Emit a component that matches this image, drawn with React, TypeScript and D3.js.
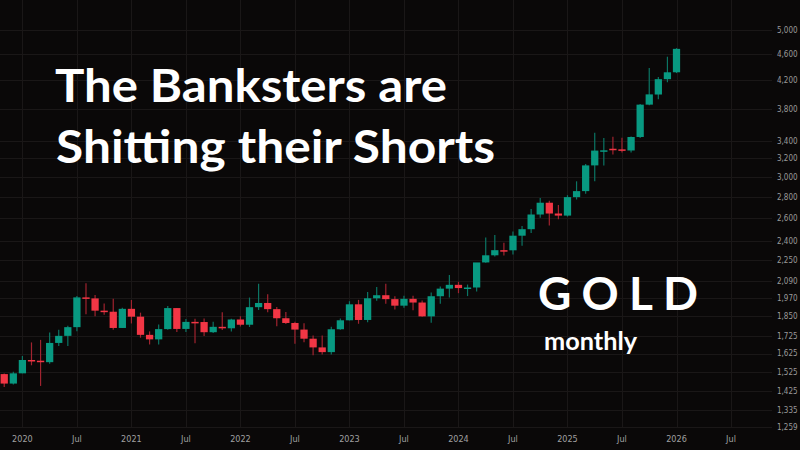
import * as d3 from 'd3';
import React, { useRef, useEffect } from 'react';

// monthly candles, Nov 2019 .. Jan 2026
const months = [
  '2019-11', '2019-12',
  '2020-01', '2020-02', '2020-03', '2020-04', '2020-05', '2020-06', '2020-07', '2020-08', '2020-09', '2020-10', '2020-11', '2020-12',
  '2021-01', '2021-02', '2021-03', '2021-04', '2021-05', '2021-06', '2021-07', '2021-08', '2021-09', '2021-10', '2021-11', '2021-12',
  '2022-01', '2022-02', '2022-03', '2022-04', '2022-05', '2022-06', '2022-07', '2022-08', '2022-09', '2022-10', '2022-11', '2022-12',
  '2023-01', '2023-02', '2023-03', '2023-04', '2023-05', '2023-06', '2023-07', '2023-08', '2023-09', '2023-10', '2023-11', '2023-12',
  '2024-01', '2024-02', '2024-03', '2024-04', '2024-05', '2024-06', '2024-07', '2024-08', '2024-09', '2024-10', '2024-11', '2024-12',
  '2025-01', '2025-02', '2025-03', '2025-04', '2025-05', '2025-06', '2025-07', '2025-08', '2025-09', '2025-10', '2025-11', '2025-12',
  '2026-01',
];

const opens = [
  1513, 1464,
  1517, 1589, 1585, 1577, 1686, 1728, 1781, 1975, 1968, 1886, 1879, 1776,
  1898, 1847, 1734, 1707, 1769, 1903, 1770, 1814, 1813, 1750, 1783, 1774,
  1829, 1796, 1909, 1937, 1896, 1837, 1807, 1766, 1711, 1660, 1633, 1768,
  1824, 1928, 1826, 1969, 1990, 1963, 1919, 1965, 1940, 1849, 1983, 2036,
  2063, 2040, 2044, 2230, 2286, 2327, 2326, 2447, 2503, 2634, 2744, 2643,
  2624, 2798, 2857, 3124, 3289, 3310, 3303, 3290, 3448, 3858, 3996, 4215,
  4317,
];
const highs = [
  1516, 1525,
  1611, 1689, 1704, 1748, 1765, 1789, 1984, 2075, 1992, 1933, 1966, 1906,
  1957, 1873, 1755, 1798, 1916, 1903, 1832, 1834, 1836, 1814, 1875, 1834,
  1850, 1974, 2070, 1996, 1910, 1877, 1814, 1806, 1730, 1730, 1784, 1836,
  1949, 1958, 2012, 2047, 2070, 1982, 1986, 1986, 1953, 2009, 2052, 2135,
  2085, 2065, 2223, 2431, 2452, 2387, 2483, 2531, 2685, 2790, 2762, 2722,
  2817, 2956, 3140, 3500, 3435, 3452, 3440, 3453, 3866, 4381, 4245, 4557,
  4695,
];
const lows = [
  1447, 1459,
  1517, 1560, 1452, 1568, 1668, 1668, 1756, 1863, 1849, 1860, 1765, 1775,
  1804, 1717, 1677, 1677, 1765, 1752, 1751, 1684, 1727, 1745, 1764, 1754,
  1785, 1782, 1890, 1875, 1787, 1800, 1681, 1690, 1616, 1620, 1620, 1765,
  1823, 1802, 1812, 1952, 1932, 1893, 1905, 1888, 1846, 1808, 1932, 1975,
  2004, 1984, 2016, 2228, 2277, 2285, 2293, 2364, 2471, 2604, 2536, 2592,
  2615, 2775, 2832, 2957, 3122, 3245, 3268, 3268, 3436, 3850, 3930, 4170,
  4305,
];
const closes = [
  1464, 1517,
  1589, 1585, 1577, 1686, 1728, 1781, 1975, 1967, 1886, 1879, 1776, 1898,
  1847, 1734, 1707, 1769, 1903, 1770, 1814, 1813, 1750, 1783, 1774, 1829,
  1796, 1909, 1937, 1896, 1837, 1807, 1766, 1711, 1660, 1633, 1768, 1824,
  1928, 1826, 1969, 1990, 1963, 1919, 1965, 1940, 1849, 1983, 2036, 2063,
  2040, 2044, 2230, 2286, 2327, 2326, 2447, 2503, 2634, 2744, 2643, 2624,
  2798, 2857, 3124, 3289, 3292, 3303, 3290, 3448, 3858, 3998, 4215, 4317,
  4683,
];

const priceTicks = [5000, 4600, 4200, 3800, 3400, 3200, 3000, 2800, 2600, 2400, 2250, 2090, 1970, 1850, 1725, 1625, 1525, 1425, 1335, 1259];
const timeLabels = ['2020', 'Jul', '2021', 'Jul', '2022', 'Jul', '2023', 'Jul', '2024', 'Jul', '2025', 'Jul', '2026', 'Jul'];

const UP = '#089981';
const DOWN = '#f23645';

function GoldChart({ width, height }) {
  const ref = useRef();

  useEffect(() => {
    const svg = d3.select(ref.current);
    svg.selectAll('*').remove();

    // month 0 = Jan 2020, first candle is Nov 2019
    const x = d3.scaleLinear().domain([0, 72]).range([22.4, 676.5]);
    const y = d3.scaleLog().domain([1259, 5000]).range([427, 30]);
    const step = x(1) - x(0);
    const bodyW = step * 0.8;

    const data = months.map((m, i) => ({
      m, idx: i - 2, o: opens[i], h: highs[i], l: lows[i], c: closes[i],
    }));

    svg.append('rect').attr('width', width).attr('height', height).attr('fill', '#0a0808');

    // grid
    svg.append('g').selectAll('line')
      .data(priceTicks)
      .enter().append('line')
      .attr('x1', 0).attr('x2', 772)
      .attr('y1', d => Math.round(y(d)) + 0.5).attr('y2', d => Math.round(y(d)) + 0.5)
      .attr('stroke', '#1a1717').attr('stroke-width', 1);

    svg.append('g').selectAll('line')
      .data(timeLabels)
      .enter().append('line')
      .attr('x1', (d, i) => Math.round(x(i * 6)) + 0.5).attr('x2', (d, i) => Math.round(x(i * 6)) + 0.5)
      .attr('y1', 0).attr('y2', 428)
      .attr('stroke', '#1a1717').attr('stroke-width', 1);

    // candles
    const candle = svg.append('g').selectAll('g')
      .data(data)
      .enter().append('g');

    candle.append('line')
      .attr('x1', d => x(d.idx)).attr('x2', d => x(d.idx))
      .attr('y1', d => y(d.h)).attr('y2', d => y(d.l))
      .attr('stroke', d => d.c >= d.o ? '#0b7564' : '#a1232f')
      .attr('stroke-width', 1.2);

    candle.append('rect')
      .attr('x', d => x(d.idx) - bodyW / 2)
      .attr('width', bodyW)
      .attr('y', d => y(Math.max(d.o, d.c)))
      .attr('height', d => Math.max(1.5, Math.abs(y(d.o) - y(d.c))))
      .attr('fill', d => d.c >= d.o ? UP : DOWN);

    // price scale
    svg.append('g').selectAll('text')
      .data(priceTicks)
      .enter().append('text')
      .attr('x', 777)
      .attr('y', d => y(d))
      .attr('dy', '0.35em')
      .attr('fill', '#9a9a9a')
      .style('font-family', '"Liberation Sans Narrow", "DejaVu Sans Condensed", sans-serif')
      .style('font-size', '8px')
      .text(d => d3.format(',')(d));

    // time scale
    svg.append('g').selectAll('text')
      .data(timeLabels)
      .enter().append('text')
      .attr('x', (d, i) => x(i * 6))
      .attr('y', 442)
      .attr('text-anchor', 'middle')
      .attr('fill', '#a0a0a0')
      .style('font-family', '"Liberation Sans Narrow", "DejaVu Sans Condensed", sans-serif')
      .style('font-size', '9px')
      .text(d => d);

    // headline
    const big = svg.append('g')
      .attr('fill', '#ffffff')
      .style('font-family', 'Lato, "Open Sans", sans-serif')
      .style('font-weight', 700);

    big.append('text').attr('x', 55).attr('y', 101.7)
      .attr('textLength', 392).attr('lengthAdjust', 'spacingAndGlyphs')
      .style('font-size', '46px').text('The Banksters are');
    big.append('text').attr('x', 56).attr('y', 163.3)
      .attr('textLength', 439).attr('lengthAdjust', 'spacingAndGlyphs')
      .style('font-size', '46px').text('Shitting their Shorts');
    big.append('text').attr('x', 538).attr('y', 310)
      .attr('textLength', 160).attr('lengthAdjust', 'spacing')
      .style('font-size', '46px').text('GOLD');
    big.append('text').attr('x', 544).attr('y', 350)
      .attr('textLength', 93).attr('lengthAdjust', 'spacingAndGlyphs')
      .style('font-size', '24px').text('monthly');
  }, [width, height]);

  return <svg ref={ref} width={width} height={height} style={{ display: 'block' }}></svg>;
}

export default function App() {
  return (
    <div style={{ position: 'absolute', left: 0, top: 0 }}>
      <GoldChart width={800} height={450} />
    </div>
  );
}
